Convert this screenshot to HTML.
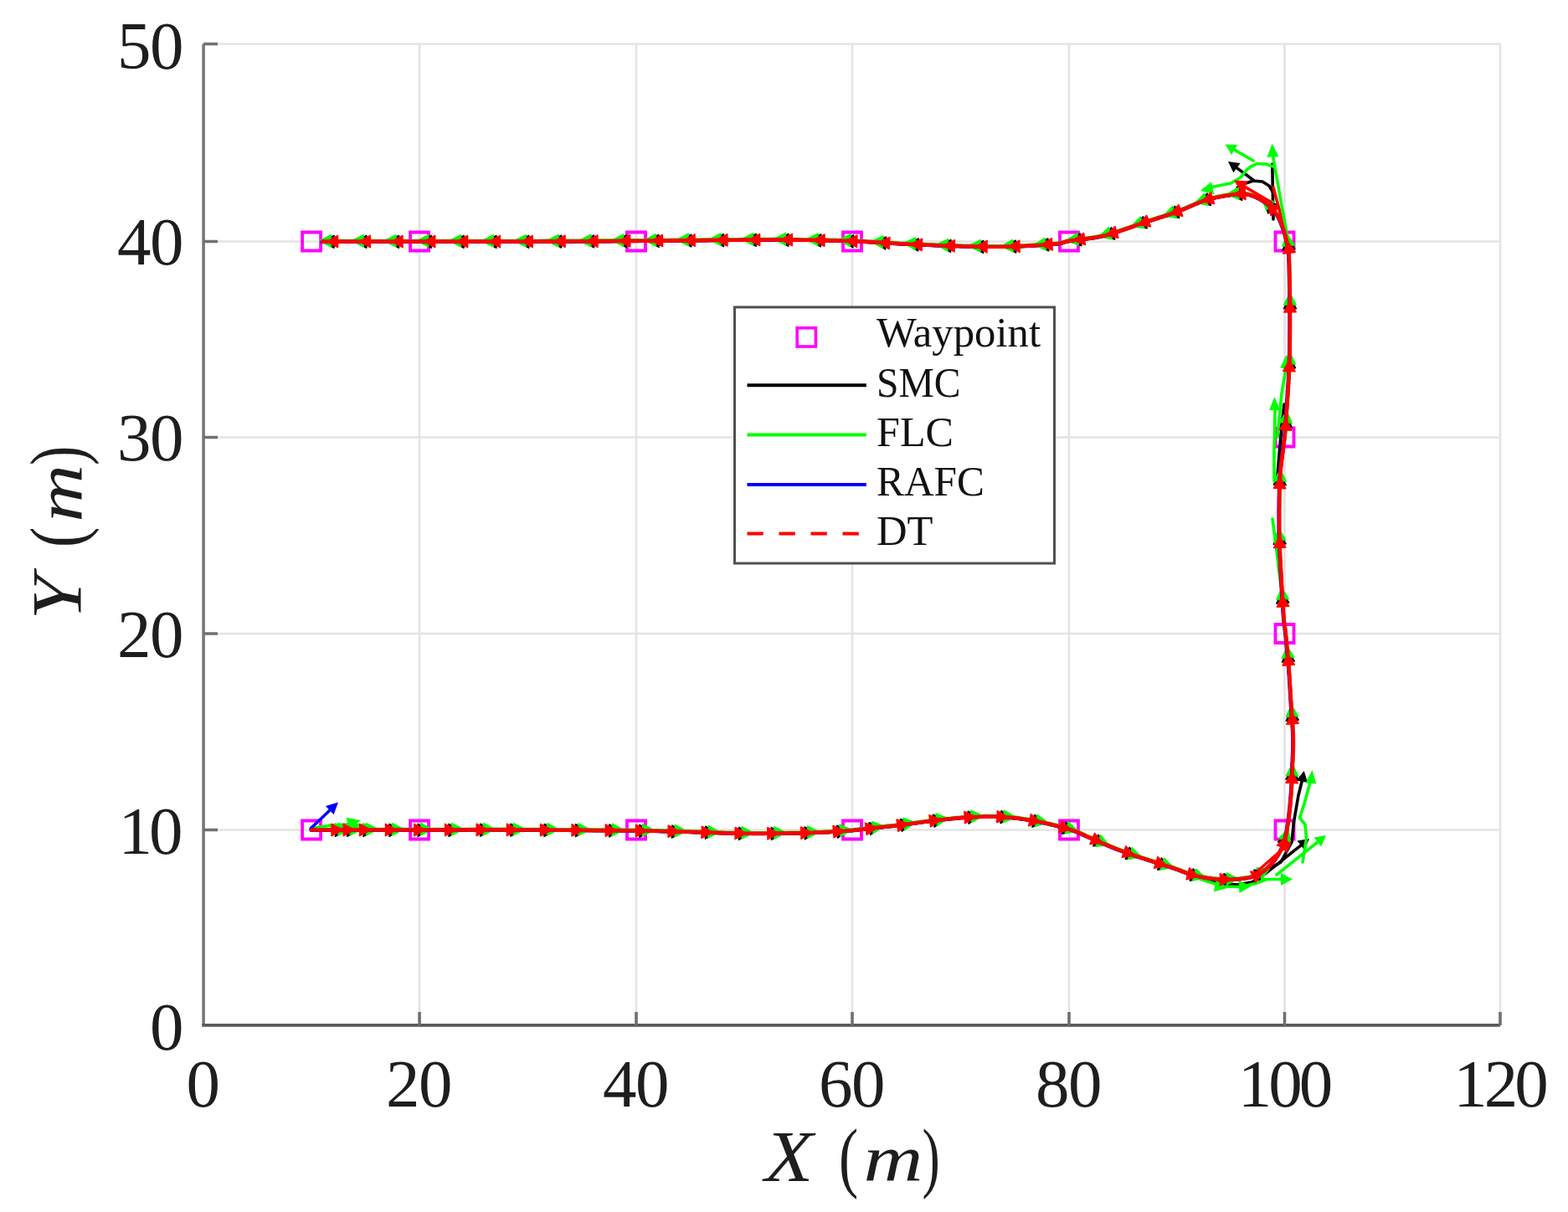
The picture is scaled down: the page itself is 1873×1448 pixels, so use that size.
<!DOCTYPE html><html><head><meta charset="utf-8"><title>Trajectory tracking</title>
<style>html,body{margin:0;padding:0;background:#fff;overflow:hidden;}svg{display:block;}</style></head><body>
<svg width="1873" height="1448" viewBox="0 0 1873 1448">
<rect width="1873" height="1448" fill="#ffffff"/>
<path d="M501.1 52.5V1225M760 52.5V1225M1018 52.5V1225M1277 52.5V1225M1534.5 52.5V1225M1792 52.5V1225M243 991.5H1792M243 757H1792M243 522.5H1792M243 288.5H1792M243 52.5H1792" stroke="#e3e3e3" stroke-width="2.6" fill="none"/>
<path d="M361.1 277.5h22v22h-22ZM490.1 277.5h22v22h-22ZM749 277.5h22v22h-22ZM1007 277.5h22v22h-22ZM1266 277.5h22v22h-22ZM1523.5 277.5h22v22h-22ZM1523.5 511.5h22v22h-22ZM1523.5 746h22v22h-22ZM1523.5 980.5h22v22h-22ZM1266 980.5h22v22h-22ZM1007 980.5h22v22h-22ZM749 980.5h22v22h-22ZM490.1 980.5h22v22h-22ZM361.1 980.5h22v22h-22Z" stroke="#ff00ff" stroke-width="3.8" fill="none"/>
<path d="M372.1 991.9L373.8 991.9L375.7 991.9L377.8 991.9L380.2 991.9L382.8 991.9L385.8 991.9L389 991.9L392.6 991.9L396.5 991.9L400.9 991.9L405.6 991.9L410.8 991.9L416.4 991.9L422.4 991.9L428.8 991.9L435.6 991.9L442.8 991.9L450.3 991.9L458.1 991.9L466.2 991.9L474.6 991.9L483.2 991.9L492.1 991.9L501.1 991.9L510.5 991.9L520.4 991.9L530.7 991.9L541.4 991.9L552.3 991.9L563.4 991.8L574.6 991.8L586 991.8L597.3 991.8L608.5 991.8L619.6 991.9L630.5 991.9L641.5 991.9L652.9 992L664.4 992.1L676.1 992.1L687.8 992.2L699.3 992.3L710.7 992.4L721.6 992.5L732.2 992.5L742.2 992.6L751.5 992.7L760 992.8L767.6 992.9L774.5 993L780.7 993.1L786.3 993.2L791.4 993.4L796.3 993.5L800.9 993.6L805.4 993.7L809.9 993.8L814.5 994L819.3 994.1L824.5 994.2L829.9 994.4L835.2 994.5L840.6 994.7L846 994.9L851.4 995.1L856.8 995.3L862.1 995.5L867.5 995.6L872.9 995.8L878.2 995.9L883.6 996L889 996.1L894.5 996.1L900 996.2L905.7 996.2L911.5 996.2L917.2 996.1L922.9 996.1L928.5 996L933.9 995.9L939.2 995.9L944.2 995.8L949 995.7L953.5 995.6L957.7 995.6L961.6 995.5L965.3 995.4L968.8 995.3L972.1 995.1L975.3 995L978.3 994.9L981.2 994.8L984 994.6L986.8 994.5L989.5 994.4L992.2 994.2L994.8 994.1L997.2 994L999.6 993.8L1001.8 993.7L1003.9 993.5L1005.9 993.4L1007.9 993.2L1009.9 993.1L1011.9 992.9L1013.8 992.7L1015.9 992.6L1018 992.4L1020.1 992.2L1022.2 992L1024.3 991.8L1026.3 991.5L1028.4 991.3L1030.5 991.1L1032.6 990.8L1034.7 990.6L1036.9 990.3L1039.1 990.1L1041.5 989.8L1043.9 989.6L1046.4 989.3L1049 989L1051.6 988.7L1054.3 988.4L1057 988.1L1059.8 987.8L1062.6 987.5L1065.5 987.2L1068.5 986.9L1071.5 986.5L1074.5 986.2L1077.6 985.8L1080.7 985.4L1084 985L1087.3 984.5L1090.6 984.1L1094.1 983.6L1097.5 983.1L1101 982.6L1104.5 982.1L1108 981.7L1111.5 981.2L1114.9 980.8L1118.4 980.4L1121.8 980L1125.2 979.6L1128.6 979.3L1132 978.9L1135.5 978.6L1138.9 978.2L1142.3 977.9L1145.7 977.6L1149.1 977.3L1152.5 977.1L1155.8 976.8L1159.2 976.7L1162.5 976.5L1165.7 976.4L1169 976.2L1172.2 976.1L1175.5 976L1178.7 976L1181.9 976L1185.1 976L1188.3 976L1191.6 976.1L1194.8 976.3L1198 976.4L1201.2 976.6L1204.5 976.9L1207.7 977.2L1210.9 977.5L1214.1 977.8L1217.3 978.2L1220.5 978.7L1223.7 979.1L1227 979.6L1230.2 980.2L1233.5 980.7L1236.9 981.3L1240.3 982L1243.8 982.7L1247.5 983.5L1251.1 984.3L1254.9 985.2L1258.5 986.1L1262.2 987L1265.7 987.9L1269.1 988.8L1272.4 989.7L1275.5 990.6L1278.3 991.4L1280.8 992.2L1283 993L1285 993.7L1286.7 994.4L1288.4 995.1L1290 995.8L1291.5 996.5L1293.2 997.3L1294.9 998.1L1296.8 999L1299 1000L1301.5 1001L1304.1 1002.1L1306.9 1003.3L1309.8 1004.6L1312.8 1005.9L1315.9 1007.3L1319.2 1008.7L1322.5 1010.1L1326 1011.6L1329.6 1013.1L1333.4 1014.6L1337.3 1016.1L1341.4 1017.6L1345.7 1019.1L1350.5 1020.8L1355.5 1022.5L1360.8 1024.3L1366.2 1026.1L1371.7 1027.8L1377.1 1029.6L1382.4 1031.3L1387.5 1032.9L1392.3 1034.5L1396.7 1035.9L1400.6 1037.2L1404 1038.4L1407 1039.4L1409.7 1040.4L1412.1 1041.3L1414.3 1042.2L1416.4 1042.9L1418.3 1043.7L1420.2 1044.3L1422.2 1045L1424.3 1045.6L1426.5 1046.2L1428.9 1046.8L1431.5 1047.3L1434.2 1047.9L1436.9 1048.4L1439.7 1048.9L1442.4 1049.4L1445.3 1049.8L1448.1 1050.2L1451 1050.5L1453.8 1050.8L1456.7 1051L1459.5 1051.1L1462.4 1051.2L1465.3 1051.2L1468.3 1051.2L1471.3 1051.1L1474.4 1050.9L1477.5 1050.7L1480.6 1050.5L1483.6 1050.1L1486.6 1049.7L1489.4 1049.3L1492.2 1048.8L1494.8 1048.2L1497.2 1047.5L1499.4 1046.7L1501.5 1045.9L1503.4 1045L1505.3 1044L1507 1043L1508.7 1041.9L1510.3 1040.8L1511.8 1039.5L1513.4 1038.2L1514.8 1036.9L1516.3 1035.4L1517.8 1033.9L1519.2 1032.3L1520.7 1030.6L1522.1 1028.8L1523.5 1027L1524.8 1025L1526.1 1023L1527.3 1021L1528.5 1018.9L1529.6 1016.8L1530.7 1014.7L1531.7 1012.6L1532.6 1010.6L1533.4 1008.6L1534.1 1006.6L1534.7 1004.6L1535.2 1002.6L1535.7 1000.6L1536.1 998.6L1536.5 996.5L1536.9 994.4L1537.3 992.2L1537.6 989.9L1538 987.6L1538.4 985.1L1538.8 982.5L1539.1 979.9L1539.5 977.2L1539.9 974.5L1540.2 971.6L1540.5 968.7L1540.9 965.8L1541.2 962.8L1541.4 959.7L1541.7 956.7L1542 953.5L1542.2 950.4L1542.5 947.1L1542.7 943.7L1542.9 940.2L1543.1 936.6L1543.2 933L1543.4 929.3L1543.5 925.7L1543.7 922.1L1543.8 918.6L1543.9 915.3L1544 912.1L1544.2 909.1L1544.3 906.4L1544.4 903.9L1544.5 901.6L1544.6 899.5L1544.7 897.5L1544.8 895.5L1544.8 893.5L1544.9 891.4L1544.9 889.3L1544.9 887L1544.9 884.4L1544.8 881.7L1544.7 878.7L1544.6 875.5L1544.4 872.1L1544.2 868.6L1544 865L1543.7 861.4L1543.5 857.6L1543.2 853.9L1542.9 850.2L1542.7 846.5L1542.4 843L1542.2 839.5L1542 836.1L1541.8 832.7L1541.6 829.4L1541.4 826.1L1541.2 822.8L1541 819.5L1540.8 816.3L1540.6 813L1540.4 809.7L1540.2 806.4L1539.9 803L1539.7 799.6L1539.4 796.1L1539.1 792.5L1538.7 788.8L1538.4 785L1538.1 781.2L1537.7 777.5L1537.4 773.8L1537 770.2L1536.7 766.7L1536.4 763.4L1536.1 760.3L1535.8 757.4L1535.5 754.9L1535.3 752.9L1535.1 751.2L1534.9 749.8L1534.7 748.4L1534.5 747.1L1534.3 745.8L1534.1 744.2L1533.9 742.3L1533.7 740.1L1533.5 737.3L1533.2 733.9L1532.9 729.9L1532.6 725.2L1532.3 720.1L1531.9 714.5L1531.6 708.6L1531.2 702.6L1530.8 696.5L1530.5 690.4L1530.2 684.4L1529.9 678.6L1529.6 673.2L1529.3 668.3L1529.1 663.7L1529 659.5L1528.8 655.4L1528.6 651.5L1528.5 647.8L1528.4 644.1L1528.3 640.5L1528.2 636.8L1528.1 633.2L1528.1 629.4L1528.1 625.5L1528.1 621.4L1528.1 617.1L1528.1 612.7L1528.1 608.2L1528.2 603.6L1528.2 598.9L1528.3 594.3L1528.4 589.6L1528.5 585L1528.7 580.4L1528.9 576L1529.1 571.6L1529.3 567.5L1529.7 563.3L1530 559.2L1530.4 555.2L1530.9 551.1L1531.4 547.2L1531.9 543.3L1532.4 539.5L1532.9 535.8L1533.3 532.3L1533.8 529L1534.2 525.8L1534.5 522.9L1534.8 520.3L1535 518.3L1535.2 516.6L1535.3 515.1L1535.4 513.8L1535.5 512.5L1535.7 511.2L1535.8 509.6L1535.9 507.8L1536 505.6L1536.2 502.9L1536.4 499.5L1536.7 495.5L1537 491L1537.3 486.1L1537.7 480.8L1538.1 475.2L1538.4 469.4L1538.8 463.4L1539.2 457.4L1539.5 451.3L1539.8 445.4L1540.1 439.6L1540.3 434L1540.5 428.5L1540.6 423.1L1540.7 417.6L1540.8 412.1L1540.9 406.7L1540.9 401.2L1541 395.8L1541 390.3L1541 384.8L1541 379.4L1541 373.9L1540.9 368.5L1540.9 362.8L1540.8 356.9L1540.8 350.8L1540.7 344.6L1540.6 338.4L1540.5 332.3L1540.3 326.4L1540.2 320.8L1540.1 315.5L1539.9 310.7L1539.8 306.5L1539.7 302.9L1539.5 300.1L1539.4 297.9L1539.3 296.3L1539.1 295.2L1539 294.5L1538.9 294L1538.7 293.7L1538.6 293.5L1538.4 293.2L1538.2 292.8L1538 292.2L1537.7 291.2L1537.4 290L1537.1 288.8L1536.8 287.5L1536.5 286.1L1536.2 284.7L1535.8 283.3L1535.4 281.9L1535 280.4L1534.6 279L1534.1 277.5L1533.7 276.1L1533.2 274.7L1532.7 273.4L1532.2 271.9L1531.7 270.5L1531.2 269.1L1530.6 267.7L1530.1 266.3L1529.5 264.9L1528.9 263.5L1528.2 262.1L1527.6 260.8L1526.9 259.5L1526.1 258.2L1525.4 257L1524.6 255.8L1523.8 254.7L1523 253.5L1522.2 252.4L1521.3 251.4L1520.4 250.3L1519.5 249.3L1518.5 248.2L1517.5 247.2L1516.4 246.2L1515.2 245.2L1513.9 244.2L1512.6 243.2L1511.2 242.2L1509.7 241.2L1508.2 240.2L1506.6 239.3L1505 238.3L1503.4 237.5L1501.8 236.6L1500.2 235.9L1498.7 235.2L1497.2 234.6L1495.7 234.1L1494.4 233.6L1493.1 233.2L1491.8 232.9L1490.6 232.6L1489.3 232.4L1488 232.2L1486.5 232.1L1485 232L1483.2 232L1481.3 232.1L1479.1 232.3L1476.7 232.5L1474.1 232.7L1471.3 233.1L1468.3 233.5L1465.2 234L1462 234.5L1458.7 235.1L1455.4 235.7L1452.1 236.4L1448.8 237.2L1445.6 238L1442.4 238.9L1439.4 239.8L1436.3 240.9L1433.3 242L1430.2 243.3L1427.1 244.5L1424.1 245.9L1421 247.2L1417.9 248.5L1414.9 249.9L1411.8 251.1L1408.8 252.4L1405.8 253.5L1402.8 254.6L1399.9 255.6L1397 256.5L1394.2 257.5L1391.4 258.4L1388.6 259.3L1385.7 260.2L1382.7 261.1L1379.7 262.1L1376.5 263.1L1373.2 264.2L1369.7 265.3L1366 266.5L1362.1 267.9L1357.9 269.3L1353.7 270.8L1349.4 272.4L1345 273.9L1340.5 275.4L1336.1 276.9L1331.8 278.3L1327.5 279.6L1323.4 280.8L1319.5 281.8L1315.6 282.7L1311.7 283.5L1307.8 284.2L1304 284.8L1300.2 285.3L1296.4 285.8L1292.8 286.3L1289.4 286.7L1286.1 287L1283 287.4L1280.2 287.8L1277.6 288.2L1275.5 288.6L1273.8 289L1272.6 289.3L1271.6 289.6L1270.7 289.9L1270 290.2L1269.2 290.4L1268.3 290.7L1267.2 290.9L1265.8 291.2L1263.9 291.4L1261.5 291.7L1258.5 292L1255.1 292.3L1251.3 292.6L1247.2 292.9L1242.8 293.2L1238.4 293.4L1233.8 293.7L1229.2 294L1224.7 294.2L1220.3 294.4L1216.1 294.6L1212.2 294.8L1208.6 294.9L1205.2 295L1201.8 295L1198.6 295.1L1195.4 295.1L1192.3 295.1L1189.1 295.1L1185.9 295.1L1182.7 295.1L1179.3 295.1L1175.8 295L1172.1 295L1168.3 294.9L1164.3 294.9L1160.2 294.8L1156.1 294.7L1151.9 294.6L1147.6 294.4L1143.3 294.3L1138.9 294.2L1134.6 294L1130.2 293.9L1125.9 293.7L1121.6 293.6L1117.3 293.4L1113 293.2L1108.7 293.1L1104.4 292.9L1100.1 292.7L1095.8 292.5L1091.4 292.3L1087.1 292.1L1082.8 291.9L1078.4 291.7L1074.1 291.5L1069.8 291.2L1065.5 291L1061.3 290.8L1057.2 290.5L1053 290.3L1048.9 290L1044.7 289.8L1040.5 289.5L1036.2 289.3L1031.9 289L1027.4 288.8L1022.8 288.6L1018 288.4L1013.1 288.3L1008 288.1L1002.8 287.9L997.5 287.8L992 287.7L986.6 287.5L981 287.4L975.5 287.3L969.9 287.2L964.4 287.1L958.9 287.1L953.5 287L948.3 287L943.5 286.9L938.9 286.9L934.4 286.9L929.9 286.9L925.3 286.8L920.4 286.9L915.3 286.9L909.7 286.9L903.5 286.9L896.6 287L889 287L880.5 287.1L871.2 287.1L861.3 287.2L850.8 287.3L839.8 287.4L828.5 287.6L817 287.7L805.4 287.8L793.8 287.9L782.2 288L771 288.1L760 288.2L749.2 288.3L738.4 288.3L727.6 288.4L716.8 288.5L706.1 288.6L695.3 288.6L684.5 288.7L673.7 288.7L662.9 288.8L652.1 288.8L641.3 288.9L630.5 288.9L619.7 288.9L608.8 288.9L597.9 288.9L586.9 289L576 288.9L565 288.9L554.1 288.9L543.3 288.9L532.6 288.9L521.9 288.9L511.4 288.9L501.1 288.9L490.6 288.9L479.7 288.9L468.4 288.9L457.1 288.9L445.9 288.9L435 288.9L424.5 288.9L414.6 288.9L405.5 288.9L397.4 288.9L390.5 288.9L385 288.9" stroke="#000000" stroke-width="4.0" fill="none" stroke-linejoin="round" stroke-linecap="round"/>
<path d="M414.5 991.8L400.5 999.3L400.5 984.3ZM428.7 991.8L414.7 999.3L414.7 984.3ZM448.1 991.8L434.1 999.3L434.1 984.3ZM479 991.8L465 999.3L465 984.3ZM513.2 991.8L499.2 999.3L499.2 984.3ZM550.1 991.8L536.1 999.3L536.1 984.3ZM587.7 991.7L573.7 999.2L573.7 984.2ZM623.9 991.8L609.9 999.2L609.9 984.2ZM664.1 991.9L650 999.4L650.1 984.4ZM701.6 992.2L687.5 999.6L687.6 984.6ZM741.7 992.5L727.7 999.9L727.8 984.9ZM777.9 993L763.9 1000.3L764 985.3ZM816.6 993.9L802.4 1001L802.9 986ZM856.6 995.2L842.4 1002.2L842.9 987.2ZM896.6 996.1L882.5 1003.4L882.7 988.4ZM935.3 995.8L921.4 1003.5L921.3 988.5ZM975.3 995L961.5 1002.9L961.1 987.9ZM1014 992.7L1000.5 1001.2L999.5 986.2ZM1052.7 988.5L1039.7 997.5L1038 982.6ZM1090.3 984.1L1077.3 993.3L1075.4 978.4ZM1129.1 979.1L1116.1 988.1L1114.4 973.2ZM1170.6 975.9L1157.1 984.2L1156.2 969.2ZM1209.5 976.9L1195.1 983.7L1195.9 968.7ZM1248.2 983.3L1233 988.2L1235.7 973.4ZM1284.2 993L1268.7 996.3L1272.8 981.9ZM1321.6 1009.7L1305.8 1010.9L1311.8 997.2ZM1360 1024L1344.3 1026.5L1349.2 1012.3ZM1398.3 1036.3L1382.7 1039.2L1387.3 1024.9ZM1436.7 1048.8L1421.3 1052.4L1425.1 1038ZM1475.9 1051.1L1461.9 1058.6L1461.9 1043.6ZM1513.5 1040.3L1503.9 1052.9L1497.7 1039.3ZM1537.7 994.7L1540.7 1010.3L1526.4 1005.9ZM1543.9 917.4L1550.8 931.7L1535.8 931.1ZM1542.7 846.8L1551.2 860.2L1536.2 861.2ZM1537.7 776.5L1546.4 789.8L1531.4 791.1ZM1531.4 706.6L1539.8 720.1L1524.8 721.1ZM1528.1 636.1L1536.1 649.8L1521.1 650.3ZM1529.3 565.3L1536.2 579.6L1521.2 579ZM1536.7 495.7L1543.2 510.2L1528.3 509.2ZM1540.6 425.4L1547.6 439.7L1532.6 439.1ZM1540.8 354.7L1548.4 368.7L1533.4 368.8ZM1537.9 284.2L1546.9 297.3L1532 298.9ZM1509.8 239.7L1525.1 244.1L1514.7 254.9ZM1469.1 232.8L1482.6 224.4L1483.6 239.4ZM1430.9 242.4L1442 231L1446.5 245.4ZM1393 258L1403.7 246.2L1408.7 260.3ZM1354.7 270.3L1365.5 258.7L1370.3 272.9ZM1316.2 282.8L1327.6 271.7L1331.8 286.1ZM1277.2 288L1290.2 278.9L1291.9 293.8ZM1238.3 293.4L1251.8 284.9L1252.8 299.9ZM1199.5 295.1L1213.2 287.1L1213.7 302.1ZM1160.6 294.7L1174.7 287.4L1174.5 302.4ZM1121.8 293.5L1136 286.5L1135.5 301.5ZM1082.9 291.8L1097.3 285L1096.6 299.9ZM1044.1 289.6L1058.5 283L1057.6 298ZM1005.2 287.9L1019.5 280.9L1018.9 295.9ZM966.5 287.1L980.6 279.8L980.4 294.8ZM927.8 286.7L941.9 279.3L941.8 294.3ZM889.1 286.9L903.1 279.3L903.2 294.3ZM850.4 287.2L864.3 279.6L864.5 294.6ZM811.7 287.6L825.6 280L825.8 295ZM773 288L786.9 280.4L787.1 295.4ZM734.3 288.3L748.2 280.7L748.3 295.7ZM695.4 288.5L709.4 280.9L709.5 295.9ZM656.6 288.7L670.6 281.1L670.6 296.1ZM617.8 288.8L631.7 281.3L631.8 296.3ZM578.9 288.9L592.9 281.4L592.9 296.4ZM540.1 288.8L554.1 281.3L554.1 296.3ZM501.3 288.8L515.3 281.3L515.2 296.3ZM462.5 288.8L476.5 281.3L476.5 296.3ZM423.8 288.8L437.8 281.3L437.8 296.3ZM385.1 288.8L399.1 281.3L399.1 296.3Z" fill="#000000" stroke="#000000" stroke-width="1.4" stroke-linejoin="round"/>
<path d="M1521 262L1520.5 240L1519.8 196" stroke="#000000" stroke-width="3.6" fill="none" stroke-linejoin="round" stroke-linecap="round"/>
<path d="M1522 232L1516 222L1508 217L1497 216L1488 219L1478 224" stroke="#000000" stroke-width="3.6" fill="none" stroke-linejoin="round" stroke-linecap="round"/>
<path d="M1497 215L1473.3 197.6" stroke="#000000" stroke-width="3.6" stroke-linecap="round"/><path d="M1467 193L1481.6 195L1473.3 206.3Z" fill="#000000"/>
<path d="M1511 1044L1557.9 1006.8" stroke="#000000" stroke-width="3.6" stroke-linecap="round"/><path d="M1564 1002L1558.2 1015.6L1549.5 1004.6Z" fill="#000000"/>
<path d="M1420 1044L1440 1051L1460 1055.5L1478 1057L1495 1054L1508 1047" stroke="#000000" stroke-width="3.6" fill="none" stroke-linejoin="round" stroke-linecap="round"/>
<path d="M1506 1045L1530 1030L1543 1006L1545.5 982L1551 950L1556 930" stroke="#000000" stroke-width="3.6" fill="none" stroke-linejoin="round" stroke-linecap="round"/>
<path d="M1525 580L1527 555L1530 520L1534 483" stroke="#000000" stroke-width="3.6" fill="none" stroke-linejoin="round" stroke-linecap="round"/>
<path d="M1557.7 921L1562.1 935.1L1548.3 932.4Z" fill="#000000"/>
<path d="M372.1 990.7L373.8 990.7L375.7 990.7L377.8 990.7L380.2 990.7L382.8 990.7L385.8 990.7L389 990.7L392.6 990.7L396.5 990.7L400.9 990.7L405.6 990.7L410.8 990.7L416.4 990.7L422.4 990.7L428.8 990.7L435.6 990.7L442.8 990.7L450.3 990.7L458.1 990.7L466.2 990.7L474.6 990.7L483.2 990.7L492.1 990.7L501.1 990.7L510.5 990.7L520.4 990.7L530.7 990.7L541.4 990.7L552.3 990.7L563.4 990.6L574.6 990.6L586 990.6L597.3 990.6L608.5 990.6L619.6 990.7L630.5 990.7L641.5 990.7L652.9 990.8L664.4 990.9L676.1 990.9L687.8 991L699.3 991.1L710.7 991.2L721.6 991.3L732.2 991.3L742.2 991.4L751.5 991.5L760 991.6L767.6 991.7L774.5 991.8L780.7 991.9L786.3 992L791.4 992.2L796.3 992.3L800.9 992.4L805.4 992.5L809.9 992.6L814.5 992.8L819.3 992.9L824.5 993L829.9 993.2L835.2 993.3L840.6 993.5L846 993.7L851.4 993.9L856.8 994.1L862.1 994.3L867.5 994.4L872.9 994.6L878.2 994.7L883.6 994.8L889 994.9L894.5 994.9L900 995L905.7 995L911.5 995L917.2 994.9L922.9 994.9L928.5 994.8L933.9 994.7L939.2 994.7L944.2 994.6L949 994.5L953.5 994.4L957.7 994.4L961.6 994.3L965.3 994.2L968.8 994.1L972.1 993.9L975.3 993.8L978.3 993.7L981.2 993.6L984 993.4L986.8 993.3L989.5 993.2L992.2 993L994.8 992.9L997.2 992.8L999.6 992.6L1001.8 992.5L1003.9 992.3L1005.9 992.2L1007.9 992L1009.9 991.9L1011.9 991.7L1013.8 991.5L1015.9 991.4L1018 991.2L1020.1 991L1022.2 990.8L1024.3 990.6L1026.3 990.3L1028.4 990.1L1030.5 989.9L1032.6 989.6L1034.7 989.4L1036.9 989.1L1039.1 988.9L1041.5 988.6L1043.9 988.4L1046.4 988.1L1049 987.8L1051.6 987.5L1054.3 987.2L1057 986.9L1059.8 986.6L1062.6 986.3L1065.5 986L1068.5 985.7L1071.5 985.3L1074.5 985L1077.6 984.6L1080.7 984.2L1084 983.8L1087.3 983.3L1090.6 982.9L1094.1 982.4L1097.5 981.9L1101 981.4L1104.5 980.9L1108 980.5L1111.5 980L1114.9 979.6L1118.4 979.2L1121.8 978.8L1125.2 978.4L1128.6 978.1L1132 977.7L1135.5 977.4L1138.9 977L1142.3 976.7L1145.7 976.4L1149.1 976.1L1152.5 975.9L1155.8 975.6L1159.2 975.5L1162.5 975.3L1165.7 975.2L1169 975L1172.2 974.9L1175.5 974.8L1178.7 974.8L1181.9 974.8L1185.1 974.8L1188.3 974.8L1191.6 974.9L1194.8 975.1L1198 975.2L1201.2 975.4L1204.5 975.7L1207.7 976L1210.9 976.3L1214.1 976.6L1217.3 977L1220.5 977.5L1223.7 977.9L1227 978.4L1230.2 979L1233.5 979.5L1236.9 980.1L1240.3 980.8L1243.8 981.5L1247.5 982.3L1251.1 983.1L1254.9 984L1258.5 984.9L1262.2 985.8L1265.7 986.7L1269.1 987.6L1272.4 988.5L1275.5 989.4L1278.3 990.2L1280.8 991L1283 991.8L1285 992.5L1286.7 993.2L1288.4 993.9L1290 994.6L1291.5 995.3L1293.2 996.1L1294.9 996.9L1296.8 997.8L1299 998.8L1301.5 999.8L1304.1 1000.9L1306.9 1002.1L1309.8 1003.4L1312.8 1004.7L1315.9 1006.1L1319.2 1007.5L1322.5 1008.9L1326 1010.4L1329.6 1011.9L1333.4 1013.4L1337.3 1014.9L1341.4 1016.4L1345.7 1017.9L1350.5 1019.6L1355.5 1021.3L1360.8 1023.1L1366.2 1024.9L1371.7 1026.6L1377.1 1028.4L1382.4 1030.1L1387.5 1031.7L1392.3 1033.3L1396.7 1034.7L1400.6 1036L1404 1037.2L1407 1038.2L1409.7 1039.2L1412.1 1040.1L1414.3 1041L1416.4 1041.7L1418.3 1042.5L1420.2 1043.1L1422.2 1043.8L1424.3 1044.4L1426.5 1045L1428.9 1045.6L1431.5 1046.1L1434.2 1046.7L1436.9 1047.2L1439.7 1047.7L1442.4 1048.2L1445.3 1048.6L1448.1 1049L1451 1049.3L1453.8 1049.6L1456.7 1049.8L1459.5 1049.9L1462.4 1050L1465.3 1050L1468.3 1050L1471.3 1049.9L1474.4 1049.7L1477.5 1049.5L1480.6 1049.3L1483.6 1048.9L1486.6 1048.5L1489.4 1048.1L1492.2 1047.6L1494.8 1047L1497.2 1046.3L1499.4 1045.5L1501.5 1044.7L1503.4 1043.8L1505.3 1042.8L1507 1041.8L1508.7 1040.7L1510.3 1039.6L1511.8 1038.3L1513.4 1037L1514.8 1035.7L1516.3 1034.2L1517.8 1032.7L1519.2 1031.1L1520.7 1029.4L1522.1 1027.6L1523.5 1025.8L1524.8 1023.8L1526.1 1021.8L1527.3 1019.8L1528.5 1017.7L1529.6 1015.6L1530.7 1013.5L1531.7 1011.4L1532.6 1009.4L1533.4 1007.4L1534.1 1005.4L1534.7 1003.4L1535.2 1001.4L1535.7 999.4L1536.1 997.4L1536.5 995.3L1536.9 993.2L1537.3 991L1537.6 988.7L1538 986.4L1538.4 983.9L1538.8 981.3L1539.1 978.7L1539.5 976L1539.9 973.3L1540.2 970.4L1540.5 967.5L1540.9 964.6L1541.2 961.6L1541.4 958.5L1541.7 955.5L1542 952.3L1542.2 949.2L1542.5 945.9L1542.7 942.5L1542.9 939L1543.1 935.4L1543.2 931.8L1543.4 928.1L1543.5 924.5L1543.7 920.9L1543.8 917.4L1543.9 914.1L1544 910.9L1544.2 907.9L1544.3 905.2L1544.4 902.7L1544.5 900.4L1544.6 898.3L1544.7 896.3L1544.8 894.3L1544.8 892.3L1544.9 890.2L1544.9 888.1L1544.9 885.8L1544.9 883.2L1544.8 880.5L1544.7 877.5L1544.6 874.3L1544.4 870.9L1544.2 867.4L1544 863.8L1543.7 860.2L1543.5 856.4L1543.2 852.7L1542.9 849L1542.7 845.3L1542.4 841.8L1542.2 838.3L1542 834.9L1541.8 831.5L1541.6 828.2L1541.4 824.9L1541.2 821.6L1541 818.3L1540.8 815.1L1540.6 811.8L1540.4 808.5L1540.2 805.2L1539.9 801.8L1539.7 798.4L1539.4 794.9L1539.1 791.3L1538.7 787.6L1538.4 783.8L1538.1 780L1537.7 776.3L1537.4 772.6L1537 769L1536.7 765.5L1536.4 762.2L1536.1 759.1L1535.8 756.2L1535.5 753.7L1535.3 751.7L1535.1 750L1534.9 748.6L1534.7 747.2L1534.5 745.9L1534.3 744.6L1534.1 743L1533.9 741.1L1533.7 738.9L1533.5 736.1L1533.2 732.8L1532.9 728.7L1532.6 724L1532.3 718.9L1531.9 713.3L1531.6 707.4L1531.2 701.4L1530.8 695.3L1530.5 689.2L1530.2 683.2L1529.9 677.4L1529.6 672L1529.3 667.1L1529.1 662.5L1529 658.3L1528.8 654.2L1528.6 650.3L1528.5 646.6L1528.4 642.9L1528.3 639.3L1528.2 635.6L1528.1 632L1528.1 628.2L1528.1 624.3L1528.1 620.2L1528.1 615.9L1528.1 611.5L1528.1 607L1528.2 602.4L1528.2 597.7L1528.3 593.1L1528.4 588.4L1528.5 583.8L1528.7 579.2L1528.9 574.8L1529.1 570.4L1529.3 566.3L1529.7 562.1L1530 558L1530.4 554L1530.9 549.9L1531.4 546L1531.9 542.1L1532.4 538.3L1532.9 534.6L1533.3 531.1L1533.8 527.8L1534.2 524.6L1534.5 521.7L1534.8 519.1L1535 517.1L1535.2 515.4L1535.3 513.9L1535.4 512.6L1535.5 511.3L1535.7 510L1535.8 508.4L1535.9 506.6L1536 504.4L1536.2 501.7L1536.4 498.3L1536.7 494.3L1537 489.8L1537.3 484.9L1537.7 479.6L1538.1 474L1538.4 468.2L1538.8 462.2L1539.2 456.2L1539.5 450.1L1539.8 444.2L1540.1 438.4L1540.3 432.8L1540.5 427.3L1540.6 421.9L1540.7 416.4L1540.8 410.9L1540.9 405.5L1540.9 400L1541 394.6L1541 389.1L1541 383.6L1541 378.2L1541 372.7L1540.9 367.3L1540.9 361.6L1540.8 355.7L1540.8 349.6L1540.7 343.4L1540.6 337.2L1540.5 331.1L1540.3 325.2L1540.2 319.6L1540.1 314.3L1539.9 309.5L1539.8 305.3L1539.7 301.7L1539.5 298.9L1539.4 296.7L1539.3 295.1L1539.1 294L1539 293.3L1538.9 292.8L1538.7 292.5L1538.6 292.3L1538.4 292L1538.2 291.6L1538 291L1537.7 290L1537.4 288.8L1537.1 287.6L1536.8 286.3L1536.5 284.9L1536.2 283.5L1535.8 282.1L1535.4 280.7L1535 279.2L1534.6 277.8L1534.1 276.3L1533.7 274.9L1533.2 273.5L1532.7 272.2L1532.2 270.7L1531.7 269.3L1531.2 267.9L1530.6 266.5L1530.1 265.1L1529.5 263.7L1528.9 262.3L1528.2 260.9L1527.6 259.6L1526.9 258.3L1526.1 257L1525.4 255.8L1524.6 254.6L1523.8 253.5L1523 252.3L1522.2 251.2L1521.3 250.2L1520.4 249.1L1519.5 248.1L1518.5 247L1517.5 246L1516.4 245L1515.2 244L1513.9 243L1512.6 242L1511.2 241L1509.7 240L1508.2 239L1506.6 238.1L1505 237.1L1503.4 236.3L1501.8 235.4L1500.2 234.7L1498.7 234L1497.2 233.4L1495.7 232.9L1494.4 232.4L1493.1 232L1491.8 231.7L1490.6 231.4L1489.3 231.2L1488 231L1486.5 230.9L1485 230.8L1483.2 230.8L1481.3 230.9L1479.1 231.1L1476.7 231.3L1474.1 231.5L1471.3 231.9L1468.3 232.3L1465.2 232.8L1462 233.3L1458.7 233.9L1455.4 234.5L1452.1 235.2L1448.8 236L1445.6 236.8L1442.4 237.7L1439.4 238.6L1436.3 239.7L1433.3 240.8L1430.2 242.1L1427.1 243.3L1424.1 244.7L1421 246L1417.9 247.3L1414.9 248.7L1411.8 249.9L1408.8 251.2L1405.8 252.3L1402.8 253.4L1399.9 254.4L1397 255.3L1394.2 256.3L1391.4 257.2L1388.6 258.1L1385.7 259L1382.7 259.9L1379.7 260.9L1376.5 261.9L1373.2 263L1369.7 264.1L1366 265.3L1362.1 266.7L1357.9 268.1L1353.7 269.6L1349.4 271.2L1345 272.7L1340.5 274.2L1336.1 275.7L1331.8 277.1L1327.5 278.4L1323.4 279.6L1319.5 280.6L1315.6 281.5L1311.7 282.3L1307.8 283L1304 283.6L1300.2 284.1L1296.4 284.6L1292.8 285.1L1289.4 285.5L1286.1 285.8L1283 286.2L1280.2 286.6L1277.6 287L1275.5 287.4L1273.8 287.8L1272.6 288.1L1271.6 288.4L1270.7 288.7L1270 289L1269.2 289.2L1268.3 289.5L1267.2 289.7L1265.8 290L1263.9 290.2L1261.5 290.5L1258.5 290.8L1255.1 291.1L1251.3 291.4L1247.2 291.7L1242.8 292L1238.4 292.2L1233.8 292.5L1229.2 292.8L1224.7 293L1220.3 293.2L1216.1 293.4L1212.2 293.6L1208.6 293.7L1205.2 293.8L1201.8 293.8L1198.6 293.9L1195.4 293.9L1192.3 293.9L1189.1 293.9L1185.9 293.9L1182.7 293.9L1179.3 293.9L1175.8 293.8L1172.1 293.8L1168.3 293.7L1164.3 293.7L1160.2 293.6L1156.1 293.5L1151.9 293.4L1147.6 293.2L1143.3 293.1L1138.9 293L1134.6 292.8L1130.2 292.7L1125.9 292.5L1121.6 292.4L1117.3 292.2L1113 292L1108.7 291.9L1104.4 291.7L1100.1 291.5L1095.8 291.3L1091.4 291.1L1087.1 290.9L1082.8 290.7L1078.4 290.5L1074.1 290.3L1069.8 290L1065.5 289.8L1061.3 289.6L1057.2 289.3L1053 289.1L1048.9 288.8L1044.7 288.6L1040.5 288.3L1036.2 288.1L1031.9 287.8L1027.4 287.6L1022.8 287.4L1018 287.2L1013.1 287.1L1008 286.9L1002.8 286.7L997.5 286.6L992 286.5L986.6 286.3L981 286.2L975.5 286.1L969.9 286L964.4 285.9L958.9 285.9L953.5 285.8L948.3 285.8L943.5 285.7L938.9 285.7L934.4 285.7L929.9 285.7L925.3 285.6L920.4 285.7L915.3 285.7L909.7 285.7L903.5 285.7L896.6 285.8L889 285.8L880.5 285.9L871.2 285.9L861.3 286L850.8 286.1L839.8 286.2L828.5 286.4L817 286.5L805.4 286.6L793.8 286.7L782.2 286.8L771 286.9L760 287L749.2 287.1L738.4 287.1L727.6 287.2L716.8 287.3L706.1 287.4L695.3 287.4L684.5 287.5L673.7 287.5L662.9 287.6L652.1 287.6L641.3 287.7L630.5 287.7L619.7 287.7L608.8 287.7L597.9 287.7L586.9 287.8L576 287.7L565 287.7L554.1 287.7L543.3 287.7L532.6 287.7L521.9 287.7L511.4 287.7L501.1 287.7L490.6 287.7L479.7 287.7L468.4 287.7L457.1 287.7L445.9 287.7L435 287.7L424.5 287.7L414.6 287.7L405.5 287.7L397.4 287.7L390.5 287.7L385 287.7" stroke="#00ff00" stroke-width="4.0" fill="none" stroke-linejoin="round" stroke-linecap="round"/>
<path d="M418 990.7L404 997.9L404 983.5ZM432.2 990.7L418.2 997.9L418.2 983.5ZM451.6 990.7L437.6 997.9L437.6 983.5ZM482.5 990.7L468.5 997.9L468.5 983.5ZM516.7 990.7L502.7 997.9L502.7 983.5ZM553.6 990.7L539.6 997.9L539.6 983.5ZM591.2 990.6L577.2 997.8L577.2 983.4ZM627.4 990.7L613.4 997.9L613.4 983.5ZM667.6 990.9L653.5 998L653.6 983.6ZM705.1 991.1L691 998.2L691.1 983.8ZM745.2 991.5L731.2 998.5L731.3 984.1ZM781.4 991.9L767.4 998.9L767.5 984.5ZM820.1 992.9L806 999.7L806.3 985.3ZM860.1 994.2L845.9 1000.9L846.4 986.5ZM900.1 995.1L886 1002.1L886.2 987.7ZM938.8 994.7L924.9 1002.1L924.8 987.7ZM978.8 993.8L965 1001.4L964.6 987ZM1017.5 991.4L1004 999.5L1003 985.2ZM1056.2 987L1043.1 995.7L1041.5 981.4ZM1093.7 982.6L1080.8 991.5L1079 977.2ZM1132.6 977.6L1119.5 986.3L1117.9 972ZM1174.1 974.6L1160.6 982.6L1159.8 968.2ZM1213 976L1198.6 982.5L1199.4 968.1ZM1251.6 982.8L1236.5 987.4L1239.1 973.2ZM1287.5 992.8L1272.1 995.9L1276.1 982.1ZM1324.8 1010L1309.1 1011L1314.9 997.8ZM1363.3 1024L1347.7 1026.2L1352.4 1012.6ZM1401.7 1036.3L1386.1 1038.8L1390.5 1025.1ZM1440.1 1048.6L1424.7 1052L1428.4 1038.1ZM1479.4 1050L1465.4 1057.2L1465.4 1042.8ZM1516.7 1037.8L1506.9 1050.1L1501 1037ZM1538.8 990.3L1541.5 1005.8L1527.7 1001.5ZM1544 912.8L1550.6 927.1L1536.3 926.5ZM1542.5 842.2L1550.6 855.7L1536.3 856.6ZM1537.4 771.9L1545.8 785.2L1531.4 786.5ZM1531.2 702.1L1539.3 715.6L1524.9 716.5ZM1528 631.5L1535.7 645.3L1521.3 645.7ZM1529.5 560.7L1536.1 575L1521.7 574.4ZM1536.9 491.1L1543.2 505.6L1528.8 504.6ZM1540.8 420.8L1547.4 435.1L1533 434.5ZM1540.8 350.1L1548.1 364.1L1533.7 364.2ZM1537.6 279.6L1546.3 292.7L1531.9 294.3ZM1507.3 236.2L1522.4 240.8L1512.4 251.1ZM1465.6 232L1479.1 223.8L1480 238.2ZM1427.5 242.3L1438.8 231.3L1443 245ZM1389.7 258L1400.5 246.5L1405.3 260.1ZM1351.4 270.4L1362.2 259L1366.9 272.6ZM1312.9 282.6L1324.3 271.8L1328.3 285.7ZM1273.7 287.3L1286.8 278.5L1288.4 292.8ZM1234.8 292.5L1248.3 284.4L1249.3 298.7ZM1196 294.1L1209.7 286.4L1210.2 300.8ZM1157.1 293.6L1171.2 286.6L1171 301ZM1118.3 292.3L1132.5 285.6L1132 300ZM1079.4 290.5L1093.7 284L1093.1 298.4ZM1040.6 288.3L1055 282L1054.1 296.4ZM1001.7 286.7L1016 280L1015.5 294.3ZM963 285.9L977.1 279L976.9 293.4ZM924.3 285.6L938.4 278.5L938.3 292.9ZM885.6 285.8L899.6 278.5L899.7 292.9ZM846.9 286.2L860.8 278.8L861 293.2ZM808.2 286.6L822.1 279.2L822.3 293.6ZM769.5 286.9L783.4 279.6L783.6 294ZM730.8 287.2L744.7 279.9L744.8 294.3ZM691.9 287.4L705.9 280.2L706 294.6ZM653.1 287.6L667.1 280.4L667.1 294.8ZM614.3 287.7L628.2 280.5L628.3 294.9ZM575.4 287.8L589.4 280.6L589.4 295ZM536.6 287.7L550.6 280.5L550.6 294.9ZM497.8 287.7L511.8 280.5L511.7 294.9ZM459 287.7L473 280.5L473 294.9ZM420.3 287.7L434.3 280.5L434.3 294.9ZM381.6 287.7L395.6 280.5L395.6 294.9Z" fill="#00ff00" stroke="#00ff00" stroke-width="1.4" stroke-linejoin="round"/>
<path d="M376 989L395 986L415 985L440 986.5" stroke="#00ff00" stroke-width="3.6" fill="none" stroke-linejoin="round" stroke-linecap="round"/>
<path d="M431 980L417.4 991.3L413.6 976.8Z" fill="#00ff00"/>
<path d="M1541 300L1530 240L1520.5 186" stroke="#00ff00" stroke-width="3.6" fill="none" stroke-linejoin="round" stroke-linecap="round"/>
<path d="M1519.6 171.5L1527.4 187.1L1513.4 187.8Z" fill="#00ff00"/>
<path d="M1521 199L1512 196L1502 195.5L1495 198.5L1489 203L1482 212L1470 219L1450 223L1438 226" stroke="#00ff00" stroke-width="3.6" fill="none" stroke-linejoin="round" stroke-linecap="round"/>
<path d="M1434 228L1446.9 217.3L1450.3 231.9Z" fill="#00ff00"/>
<path d="M1497 192L1470.2 176.4" stroke="#00ff00" stroke-width="3.6" stroke-linecap="round"/><path d="M1463.5 172.5L1478.3 173L1471.2 185.1Z" fill="#00ff00"/>
<path d="M1522 575L1522 540L1523 490" stroke="#00ff00" stroke-width="3.6" fill="none" stroke-linejoin="round" stroke-linecap="round"/>
<path d="M1522.5 474L1529.1 489.9L1516.1 490Z" fill="#00ff00"/>
<path d="M1526 522L1531 470L1536 440" stroke="#00ff00" stroke-width="3.6" fill="none" stroke-linejoin="round" stroke-linecap="round"/>
<path d="M1536.5 424L1542.1 440.3L1529.1 439.6Z" fill="#00ff00"/>
<path d="M1520 620L1524 650L1530 700" stroke="#00ff00" stroke-width="3.6" fill="none" stroke-linejoin="round" stroke-linecap="round"/>
<path d="M1525 1045L1577.9 1002.9" stroke="#00ff00" stroke-width="3.6" stroke-linecap="round"/><path d="M1584 998L1578.2 1011.6L1569.5 1000.6Z" fill="#00ff00"/>
<path d="M1508 1050.5L1535.6 1050.5" stroke="#00ff00" stroke-width="3.6" stroke-linecap="round"/><path d="M1544 1050.5L1530 1058L1530 1043Z" fill="#00ff00"/>
<path d="M1556 1030L1560.5 1002L1559 985L1552.5 977L1558 960L1565 935" stroke="#00ff00" stroke-width="3.6" fill="none" stroke-linejoin="round" stroke-linecap="round"/>
<path d="M1567.5 920L1572.4 936.6L1559.4 935.3Z" fill="#00ff00"/>
<path d="M1425 1047L1445 1054L1462 1059L1480 1059.5L1498 1056L1512 1051" stroke="#00ff00" stroke-width="3.6" fill="none" stroke-linejoin="round" stroke-linecap="round"/>
<path d="M1466 1061L1449.9 1065.6L1452.6 1050.9Z" fill="#00ff00"/>
<path d="M1495 1058.5L1480.5 1066.9L1479.6 1051.9Z" fill="#00ff00"/>
<path d="M371.4 991.7L373.1 991.7L375 991.7L377.1 991.7L379.5 991.7L382.1 991.7L385.1 991.7L388.3 991.7L391.9 991.7L395.8 991.7L400.2 991.7L404.9 991.7L410.1 991.7L415.7 991.7L421.7 991.7L428.1 991.7L434.9 991.7L442.1 991.7L449.6 991.7L457.4 991.7L465.5 991.7L473.9 991.7L482.5 991.7L491.4 991.7L500.4 991.7L509.8 991.7L519.7 991.7L530 991.7L540.7 991.7L551.6 991.7L562.7 991.6L573.9 991.6L585.3 991.6L596.6 991.6L607.8 991.6L618.9 991.7L629.8 991.7L640.8 991.7L652.2 991.8L663.7 991.9L675.4 991.9L687.1 992L698.6 992.1L710 992.2L720.9 992.3L731.5 992.3L741.5 992.4L750.8 992.5L759.3 992.6L766.9 992.7L773.8 992.8L780 992.9L785.6 993L790.7 993.2L795.6 993.3L800.2 993.4L804.7 993.5L809.2 993.6L813.8 993.8L818.6 993.9L823.8 994L829.2 994.2L834.5 994.3L839.9 994.5L845.3 994.7L850.7 994.9L856 995.1L861.4 995.3L866.8 995.4L872.2 995.6L877.5 995.7L882.9 995.8L888.3 995.9L893.8 995.9L899.3 996L905 996L910.8 996L916.5 995.9L922.2 995.9L927.8 995.8L933.2 995.7L938.5 995.7L943.5 995.6L948.3 995.5L952.8 995.4L957 995.4L960.9 995.3L964.6 995.2L968.1 995.1L971.4 994.9L974.6 994.8L977.6 994.7L980.5 994.6L983.3 994.4L986.1 994.3L988.8 994.2L991.5 994L994.1 993.9L996.5 993.8L998.9 993.6L1001.1 993.5L1003.2 993.3L1005.2 993.2L1007.2 993L1009.2 992.9L1011.2 992.7L1013.1 992.5L1015.2 992.4L1017.3 992.2L1019.4 992L1021.5 991.8L1023.6 991.6L1025.6 991.3L1027.7 991.1L1029.8 990.9L1031.9 990.6L1034 990.4L1036.2 990.1L1038.4 989.9L1040.8 989.6L1043.2 989.4L1045.7 989.1L1048.3 988.8L1050.9 988.5L1053.6 988.2L1056.3 987.9L1059.1 987.6L1061.9 987.3L1064.8 987L1067.8 986.7L1070.8 986.3L1073.8 986L1076.9 985.6L1080 985.2L1083.3 984.8L1086.6 984.3L1089.9 983.9L1093.4 983.4L1096.8 982.9L1100.3 982.4L1103.8 981.9L1107.3 981.5L1110.8 981L1114.2 980.6L1117.7 980.2L1121.1 979.8L1124.5 979.4L1127.9 979.1L1131.3 978.7L1134.8 978.4L1138.2 978L1141.6 977.7L1145 977.4L1148.4 977.1L1151.8 976.9L1155.1 976.6L1158.5 976.5L1161.8 976.3L1165 976.2L1168.3 976L1171.5 975.9L1174.8 975.8L1178 975.8L1181.2 975.8L1184.4 975.8L1187.6 975.8L1190.9 975.9L1194.1 976.1L1197.3 976.2L1200.5 976.4L1203.8 976.7L1207 977L1210.2 977.3L1213.4 977.6L1216.6 978L1219.8 978.5L1223 978.9L1226.3 979.4L1229.5 980L1232.8 980.5L1236.2 981.1L1239.6 981.8L1243.1 982.5L1246.8 983.3L1250.4 984.1L1254.2 985L1257.8 985.9L1261.5 986.8L1265 987.7L1268.4 988.6L1271.7 989.5L1274.8 990.4L1277.6 991.2L1280.1 992L1282.3 992.8L1284.3 993.5L1286 994.2L1287.7 994.9L1289.3 995.6L1290.8 996.3L1292.5 997.1L1294.2 997.9L1296.1 998.8L1298.3 999.8L1300.8 1000.8L1303.4 1001.9L1306.2 1003.1L1309.1 1004.4L1312.1 1005.7L1315.2 1007.1L1318.5 1008.5L1321.8 1009.9L1325.3 1011.4L1328.9 1012.9L1332.7 1014.4L1336.6 1015.9L1340.7 1017.4L1345 1018.9L1349.8 1020.6L1354.8 1022.3L1360.1 1024.1L1365.5 1025.9L1371 1027.6L1376.4 1029.4L1381.7 1031.1L1386.8 1032.7L1391.6 1034.3L1396 1035.7L1399.9 1037L1403.3 1038.2L1406.3 1039.2L1409 1040.2L1411.4 1041.1L1413.6 1042L1415.7 1042.7L1417.6 1043.5L1419.5 1044.1L1421.5 1044.8L1423.6 1045.4L1425.8 1046L1428.2 1046.6L1430.8 1047.1L1433.5 1047.7L1436.2 1048.2L1439 1048.7L1441.7 1049.2L1444.6 1049.6L1447.4 1050L1450.3 1050.3L1453.1 1050.6L1456 1050.8L1458.8 1050.9L1461.7 1051L1464.6 1051L1467.6 1051L1470.6 1050.9L1473.7 1050.7L1476.8 1050.5L1479.9 1050.3L1482.9 1049.9L1485.9 1049.5L1488.7 1049.1L1491.5 1048.6L1494.1 1048L1496.5 1047.3L1498.7 1046.5L1500.8 1045.7L1502.7 1044.8L1504.6 1043.8L1506.3 1042.8L1508 1041.7L1509.6 1040.6L1511.1 1039.3L1512.7 1038L1514.1 1036.7L1515.6 1035.2L1517.1 1033.7L1518.5 1032.1L1520 1030.4L1521.4 1028.6L1522.8 1026.8L1524.1 1024.8L1525.4 1022.8L1526.6 1020.8L1527.8 1018.7L1528.9 1016.6L1530 1014.5L1531 1012.4L1531.9 1010.4L1532.7 1008.4L1533.4 1006.4L1534 1004.4L1534.5 1002.4L1535 1000.4L1535.4 998.4L1535.8 996.3L1536.2 994.2L1536.6 992L1536.9 989.7L1537.3 987.4L1537.7 984.9L1538.1 982.3L1538.4 979.7L1538.8 977L1539.2 974.3L1539.5 971.4L1539.8 968.5L1540.2 965.6L1540.5 962.6L1540.7 959.5L1541 956.5L1541.3 953.3L1541.5 950.2L1541.8 946.9L1542 943.5L1542.2 940L1542.4 936.4L1542.5 932.8L1542.7 929.1L1542.8 925.5L1543 921.9L1543.1 918.4L1543.2 915.1L1543.3 911.9L1543.5 908.9L1543.6 906.2L1543.7 903.7L1543.8 901.4L1543.9 899.3L1544 897.3L1544.1 895.3L1544.1 893.3L1544.2 891.2L1544.2 889.1L1544.2 886.8L1544.2 884.2L1544.1 881.5L1544 878.5L1543.9 875.3L1543.7 871.9L1543.5 868.4L1543.3 864.8L1543 861.2L1542.8 857.4L1542.5 853.7L1542.2 850L1542 846.3L1541.7 842.8L1541.5 839.3L1541.3 835.9L1541.1 832.5L1540.9 829.2L1540.7 825.9L1540.5 822.6L1540.3 819.3L1540.1 816.1L1539.9 812.8L1539.7 809.5L1539.5 806.2L1539.2 802.8L1539 799.4L1538.7 795.9L1538.4 792.3L1538 788.6L1537.7 784.8L1537.4 781L1537 777.3L1536.7 773.6L1536.3 770L1536 766.5L1535.7 763.2L1535.4 760.1L1535.1 757.2L1534.8 754.7L1534.6 752.7L1534.4 751L1534.2 749.6L1534 748.2L1533.8 746.9L1533.6 745.6L1533.4 744L1533.2 742.1L1533 739.9L1532.8 737.1L1532.5 733.8L1532.2 729.7L1531.9 725L1531.6 719.9L1531.2 714.3L1530.9 708.4L1530.5 702.4L1530.1 696.3L1529.8 690.2L1529.5 684.2L1529.2 678.4L1528.9 673L1528.6 668.1L1528.4 663.5L1528.3 659.3L1528.1 655.2L1527.9 651.3L1527.8 647.6L1527.7 643.9L1527.6 640.3L1527.5 636.6L1527.4 633L1527.4 629.2L1527.4 625.3L1527.4 621.2L1527.4 616.9L1527.4 612.5L1527.4 608L1527.5 603.4L1527.5 598.7L1527.6 594.1L1527.7 589.4L1527.8 584.8L1528 580.2L1528.2 575.8L1528.4 571.4L1528.6 567.3L1529 563.1L1529.3 559L1529.7 555L1530.2 550.9L1530.7 547L1531.2 543.1L1531.7 539.3L1532.2 535.6L1532.6 532.1L1533.1 528.8L1533.5 525.6L1533.8 522.7L1534.1 520.1L1534.3 518.1L1534.5 516.4L1534.6 514.9L1534.7 513.6L1534.8 512.3L1535 511L1535.1 509.4L1535.2 507.6L1535.3 505.4L1535.5 502.7L1535.7 499.3L1536 495.3L1536.3 490.8L1536.6 485.9L1537 480.6L1537.4 475L1537.7 469.2L1538.1 463.2L1538.5 457.2L1538.8 451.1L1539.1 445.2L1539.4 439.4L1539.6 433.8L1539.8 428.3L1539.9 422.9L1540 417.4L1540.1 411.9L1540.2 406.5L1540.2 401L1540.3 395.6L1540.3 390.1L1540.3 384.6L1540.3 379.2L1540.3 373.7L1540.2 368.3L1540.2 362.6L1540.1 356.7L1540.1 350.6L1540 344.4L1539.9 338.2L1539.8 332.1L1539.6 326.2L1539.5 320.6L1539.4 315.3L1539.2 310.5L1539.1 306.3L1539 302.7L1538.8 299.9L1538.7 297.7L1538.6 296.1L1538.4 295L1538.3 294.3L1538.2 293.8L1538 293.5L1537.9 293.3L1537.7 293L1537.5 292.6L1537.3 292L1537 291L1536.7 289.8L1536.4 288.6L1536.1 287.3L1535.8 285.9L1535.5 284.5L1535.1 283.1L1534.7 281.7L1534.3 280.2L1533.9 278.8L1533.4 277.3L1533 275.9L1532.5 274.5L1532 273.2L1531.5 271.7L1531 270.3L1530.5 268.9L1529.9 267.5L1529.4 266.1L1528.8 264.7L1528.2 263.3L1527.5 261.9L1526.9 260.6L1526.2 259.3L1525.4 258L1524.7 256.8L1523.9 255.6L1523.1 254.5L1522.3 253.3L1521.5 252.2L1520.6 251.2L1519.7 250.1L1518.8 249.1L1517.8 248L1516.8 247L1515.7 246L1514.5 245L1513.2 244L1511.9 243L1510.5 242L1509 241L1507.5 240L1505.9 239.1L1504.3 238.1L1502.7 237.3L1501.1 236.4L1499.5 235.7L1498 235L1496.5 234.4L1495 233.9L1493.7 233.4L1492.4 233L1491.1 232.7L1489.9 232.4L1488.6 232.2L1487.3 232L1485.8 231.9L1484.3 231.8L1482.5 231.8L1480.6 231.9L1478.4 232.1L1476 232.3L1473.4 232.5L1470.6 232.9L1467.6 233.3L1464.5 233.8L1461.3 234.3L1458 234.9L1454.7 235.5L1451.4 236.2L1448.1 237L1444.9 237.8L1441.7 238.7L1438.7 239.6L1435.6 240.7L1432.6 241.8L1429.5 243.1L1426.4 244.3L1423.4 245.7L1420.3 247L1417.2 248.3L1414.2 249.7L1411.1 250.9L1408.1 252.2L1405 253.3L1402.1 254.4L1399.2 255.4L1396.3 256.3L1393.5 257.3L1390.7 258.2L1387.9 259.1L1385 260L1382 260.9L1379 261.9L1375.8 262.9L1372.5 264L1369 265.1L1365.3 266.3L1361.4 267.7L1357.2 269.1L1353 270.6L1348.7 272.2L1344.3 273.7L1339.8 275.2L1335.4 276.7L1331.1 278.1L1326.8 279.4L1322.7 280.6L1318.8 281.6L1314.9 282.5L1311 283.3L1307.1 284L1303.3 284.6L1299.5 285.1L1295.7 285.6L1292.1 286.1L1288.7 286.5L1285.4 286.8L1282.3 287.2L1279.5 287.6L1276.9 288L1274.8 288.4L1273.1 288.8L1271.9 289.1L1270.9 289.4L1270 289.7L1269.3 290L1268.5 290.2L1267.6 290.5L1266.5 290.7L1265.1 291L1263.2 291.2L1260.8 291.5L1257.8 291.8L1254.4 292.1L1250.6 292.4L1246.5 292.7L1242.1 293L1237.7 293.2L1233.1 293.5L1228.5 293.8L1224 294L1219.6 294.2L1215.4 294.4L1211.5 294.6L1207.9 294.7L1204.5 294.8L1201.1 294.8L1197.9 294.9L1194.7 294.9L1191.6 294.9L1188.4 294.9L1185.2 294.9L1182 294.9L1178.6 294.9L1175.1 294.8L1171.4 294.8L1167.6 294.7L1163.6 294.7L1159.5 294.6L1155.4 294.5L1151.2 294.4L1146.9 294.2L1142.6 294.1L1138.2 294L1133.9 293.8L1129.5 293.7L1125.2 293.5L1120.9 293.4L1116.6 293.2L1112.3 293L1108 292.9L1103.7 292.7L1099.4 292.5L1095.1 292.3L1090.7 292.1L1086.4 291.9L1082.1 291.7L1077.7 291.5L1073.4 291.3L1069.1 291L1064.8 290.8L1060.6 290.6L1056.5 290.3L1052.3 290.1L1048.2 289.8L1044 289.6L1039.8 289.3L1035.5 289.1L1031.2 288.8L1026.7 288.6L1022.1 288.4L1017.3 288.2L1012.4 288.1L1007.3 287.9L1002.1 287.7L996.8 287.6L991.3 287.5L985.9 287.3L980.3 287.2L974.8 287.1L969.2 287L963.7 286.9L958.2 286.9L952.8 286.8L947.6 286.8L942.8 286.7L938.2 286.7L933.7 286.7L929.2 286.7L924.6 286.6L919.7 286.7L914.6 286.7L909 286.7L902.8 286.7L895.9 286.8L888.3 286.8L879.8 286.9L870.5 286.9L860.6 287L850.1 287.1L839.1 287.2L827.8 287.4L816.3 287.5L804.7 287.6L793.1 287.7L781.5 287.8L770.3 287.9L759.3 288L748.5 288.1L737.7 288.1L726.9 288.2L716.1 288.3L705.4 288.4L694.6 288.4L683.8 288.5L673 288.5L662.2 288.6L651.4 288.6L640.6 288.7L629.8 288.7L619 288.7L608.1 288.7L597.2 288.7L586.2 288.8L575.3 288.7L564.3 288.7L553.4 288.7L542.6 288.7L531.9 288.7L521.2 288.7L510.7 288.7L500.4 288.7L489.9 288.7L479 288.7L467.7 288.7L456.4 288.7L445.2 288.7L434.3 288.7L423.8 288.7L413.9 288.7L404.8 288.7L396.7 288.7L389.8 288.7L384.3 288.7" stroke="#0000ff" stroke-width="4.0" fill="none" stroke-linejoin="round" stroke-linecap="round"/>
<path d="M409.3 991.6L396.8 998L396.8 985.2ZM423.5 991.6L411 998L411 985.2ZM442.8 991.6L430.3 998L430.3 985.2ZM473.8 991.6L461.3 998L461.3 985.2ZM508 991.6L495.5 998L495.5 985.2ZM544.9 991.6L532.4 998L532.4 985.2ZM582.4 991.5L569.9 997.9L569.9 985.1ZM618.7 991.6L606.2 997.9L606.2 985.1ZM658.8 991.7L646.3 998.1L646.3 985.3ZM696.3 992L683.8 998.3L683.9 985.5ZM736.5 992.3L723.9 998.6L724 985.8ZM772.7 992.7L760.1 998.9L760.3 986.1ZM811.4 993.6L798.7 999.6L799.1 986.9ZM851.4 994.8L838.7 1000.8L839.1 988ZM891.4 995.8L878.8 1002.1L879 989.3ZM930.1 995.7L917.6 1002.2L917.5 989.4ZM970.1 994.9L957.7 1001.7L957.4 988.9ZM1008.8 992.9L996.7 1000.1L995.8 987.4ZM1047.5 988.8L1035.8 996.6L1034.4 983.9ZM1085.1 984.5L1073.5 992.4L1071.9 979.7ZM1123.9 979.4L1112.2 987.2L1110.8 974.5ZM1165.4 976L1153.3 983.1L1152.6 970.3ZM1204.2 976.5L1191.4 982.2L1192.1 969.4ZM1243 982.2L1229.6 986.3L1231.9 973.7ZM1279.1 991.4L1265.3 994.1L1268.8 981.8ZM1316.8 1007.5L1302.8 1008.3L1307.9 996.6ZM1355 1022.2L1341.1 1024.1L1345.3 1012ZM1393.3 1034.6L1379.5 1036.9L1383.4 1024.7ZM1431.6 1047.4L1417.9 1050.3L1421.2 1037.9ZM1470.6 1050.9L1458.1 1057.3L1458.1 1044.5ZM1508.7 1042.2L1500 1053.2L1494.7 1041.5ZM1536 999.3L1538.4 1013.1L1526.1 1009.3ZM1543.4 922.1L1549.3 934.9L1536.5 934.4ZM1542.8 851.5L1550 863.5L1537.2 864.4ZM1537.8 781.2L1545.3 793.1L1532.5 794.2ZM1531.4 711.4L1538.6 723.5L1525.8 724.3ZM1528 640.8L1534.8 653.1L1522 653.5ZM1528.8 570L1534.7 582.8L1521.9 582.2ZM1536.1 500.5L1541.6 513.4L1528.8 512.5ZM1540.1 430.2L1546 442.9L1533.3 442.4ZM1540.6 359.5L1547.1 371.9L1534.3 372ZM1538.2 288.9L1545.9 300.6L1533.2 302ZM1513.1 243L1526.5 247.1L1517.6 256.3ZM1473.7 232.3L1485.8 225.1L1486.6 237.9ZM1435.3 240.7L1445.3 230.9L1449.1 243.1ZM1397.4 256.1L1407 245.9L1411.3 257.9ZM1359 268.5L1368.8 258.4L1372.9 270.5ZM1320.7 281.2L1330.9 271.6L1334.5 283.9ZM1281.8 287.2L1293.5 279.4L1294.9 292.1ZM1243 292.8L1255 285.6L1255.9 298.3ZM1204.1 294.7L1216.4 287.9L1216.8 300.7ZM1165.3 294.6L1177.8 288.4L1177.7 301.2ZM1126.4 293.5L1139.1 287.5L1138.7 300.3ZM1087.6 291.8L1100.3 286L1099.8 298.8ZM1048.7 289.7L1061.6 284.1L1060.8 296.9ZM1009.9 287.9L1022.6 281.9L1022.1 294.7ZM971.2 287L983.8 280.8L983.5 293.6ZM932.5 286.5L945 280.2L944.9 293ZM893.8 286.7L906.2 280.2L906.3 293ZM855.1 287L867.5 280.5L867.6 293.3ZM816.4 287.4L828.8 280.9L828.9 293.7ZM777.7 287.7L790.1 281.2L790.2 294ZM738.9 288L751.4 281.6L751.5 294.4ZM700.1 288.3L712.5 281.8L712.6 294.6ZM661.2 288.5L673.7 282L673.8 294.8ZM622.4 288.6L634.9 282.2L634.9 295ZM583.6 288.7L596.1 282.2L596.1 295ZM544.7 288.6L557.2 282.2L557.2 295ZM505.9 288.6L518.4 282.2L518.4 295ZM467.1 288.6L479.6 282.2L479.6 295ZM428.4 288.6L440.9 282.2L440.9 295ZM389.7 288.6L402.2 282.2L402.2 295Z" fill="#0000ff"/>
<path d="M371 990L397.9 964.3" stroke="#0000ff" stroke-width="3.6" stroke-linecap="round"/><path d="M404 958.5L398.7 973.2L389 963.1Z" fill="#0000ff"/>
<path d="M372.1 991.5L373.8 991.5L375.7 991.5L377.8 991.5L380.2 991.5L382.8 991.5L385.8 991.5L389 991.5L392.6 991.5L396.5 991.5L400.9 991.5L405.6 991.5L410.8 991.5L416.4 991.5L422.4 991.5L428.8 991.5L435.6 991.5L442.8 991.5L450.3 991.5L458.1 991.5L466.2 991.5L474.6 991.5L483.2 991.5L492.1 991.5L501.1 991.5L510.5 991.5L520.4 991.5L530.7 991.5L541.4 991.5L552.3 991.5L563.4 991.4L574.6 991.4L586 991.4L597.3 991.4L608.5 991.4L619.6 991.5L630.5 991.5L641.5 991.5L652.9 991.6L664.4 991.7L676.1 991.7L687.8 991.8L699.3 991.9L710.7 992L721.6 992.1L732.2 992.1L742.2 992.2L751.5 992.3L760 992.4L767.6 992.5L774.5 992.6L780.7 992.7L786.3 992.8L791.4 993L796.3 993.1L800.9 993.2L805.4 993.3L809.9 993.4L814.5 993.6L819.3 993.7L824.5 993.8L829.9 994L835.2 994.1L840.6 994.3L846 994.5L851.4 994.7L856.8 994.9L862.1 995.1L867.5 995.2L872.9 995.4L878.2 995.5L883.6 995.6L889 995.7L894.5 995.7L900 995.8L905.7 995.8L911.5 995.8L917.2 995.7L922.9 995.7L928.5 995.6L933.9 995.5L939.2 995.5L944.2 995.4L949 995.3L953.5 995.2L957.7 995.2L961.6 995.1L965.3 995L968.8 994.9L972.1 994.7L975.3 994.6L978.3 994.5L981.2 994.4L984 994.2L986.8 994.1L989.5 994L992.2 993.8L994.8 993.7L997.2 993.6L999.6 993.4L1001.8 993.3L1003.9 993.1L1005.9 993L1007.9 992.8L1009.9 992.7L1011.9 992.5L1013.8 992.3L1015.9 992.2L1018 992L1020.1 991.8L1022.2 991.6L1024.3 991.4L1026.3 991.1L1028.4 990.9L1030.5 990.7L1032.6 990.4L1034.7 990.2L1036.9 989.9L1039.1 989.7L1041.5 989.4L1043.9 989.2L1046.4 988.9L1049 988.6L1051.6 988.3L1054.3 988L1057 987.7L1059.8 987.4L1062.6 987.1L1065.5 986.8L1068.5 986.5L1071.5 986.1L1074.5 985.8L1077.6 985.4L1080.7 985L1084 984.6L1087.3 984.1L1090.6 983.7L1094.1 983.2L1097.5 982.7L1101 982.2L1104.5 981.7L1108 981.3L1111.5 980.8L1114.9 980.4L1118.4 980L1121.8 979.6L1125.2 979.2L1128.6 978.9L1132 978.5L1135.5 978.2L1138.9 977.8L1142.3 977.5L1145.7 977.2L1149.1 976.9L1152.5 976.7L1155.8 976.4L1159.2 976.3L1162.5 976.1L1165.7 976L1169 975.8L1172.2 975.7L1175.5 975.6L1178.7 975.6L1181.9 975.6L1185.1 975.6L1188.3 975.6L1191.6 975.7L1194.8 975.9L1198 976L1201.2 976.2L1204.5 976.5L1207.7 976.8L1210.9 977.1L1214.1 977.4L1217.3 977.8L1220.5 978.3L1223.7 978.7L1227 979.2L1230.2 979.8L1233.5 980.3L1236.9 980.9L1240.3 981.6L1243.8 982.3L1247.5 983.1L1251.1 983.9L1254.9 984.8L1258.5 985.7L1262.2 986.6L1265.7 987.5L1269.1 988.4L1272.4 989.3L1275.5 990.2L1278.3 991L1280.8 991.8L1283 992.6L1285 993.3L1286.7 994L1288.4 994.7L1290 995.4L1291.5 996.1L1293.2 996.9L1294.9 997.7L1296.8 998.6L1299 999.6L1301.5 1000.6L1304.1 1001.7L1306.9 1002.9L1309.8 1004.2L1312.8 1005.5L1315.9 1006.9L1319.2 1008.3L1322.5 1009.7L1326 1011.2L1329.6 1012.7L1333.4 1014.2L1337.3 1015.7L1341.4 1017.2L1345.7 1018.7L1350.5 1020.4L1355.5 1022.1L1360.8 1023.9L1366.2 1025.7L1371.7 1027.4L1377.1 1029.2L1382.4 1030.9L1387.5 1032.5L1392.3 1034.1L1396.7 1035.5L1400.6 1036.8L1404 1038L1407 1039L1409.7 1040L1412.1 1040.9L1414.3 1041.8L1416.4 1042.5L1418.3 1043.3L1420.2 1043.9L1422.2 1044.6L1424.3 1045.2L1426.5 1045.8L1428.9 1046.4L1431.5 1046.9L1434.2 1047.5L1436.9 1048L1439.7 1048.5L1442.4 1049L1445.3 1049.4L1448.1 1049.8L1451 1050.1L1453.8 1050.4L1456.7 1050.6L1459.5 1050.7L1462.4 1050.8L1465.3 1050.8L1468.3 1050.8L1471.3 1050.7L1474.4 1050.5L1477.5 1050.3L1480.6 1050.1L1483.6 1049.7L1486.6 1049.3L1489.4 1048.9L1492.2 1048.4L1494.8 1047.8L1497.2 1047.1L1499.4 1046.3L1501.5 1045.5L1503.4 1044.6L1505.3 1043.6L1507 1042.6L1508.7 1041.5L1510.3 1040.4L1511.8 1039.1L1513.4 1037.8L1514.8 1036.5L1516.3 1035L1517.8 1033.5L1519.2 1031.9L1520.7 1030.2L1522.1 1028.4L1523.5 1026.6L1524.8 1024.6L1526.1 1022.6L1527.3 1020.6L1528.5 1018.5L1529.6 1016.4L1530.7 1014.3L1531.7 1012.2L1532.6 1010.2L1533.4 1008.2L1534.1 1006.2L1534.7 1004.2L1535.2 1002.2L1535.7 1000.2L1536.1 998.2L1536.5 996.1L1536.9 994L1537.3 991.8L1537.6 989.5L1538 987.2L1538.4 984.7L1538.8 982.1L1539.1 979.5L1539.5 976.8L1539.9 974.1L1540.2 971.2L1540.5 968.3L1540.9 965.4L1541.2 962.4L1541.4 959.3L1541.7 956.3L1542 953.1L1542.2 950L1542.5 946.7L1542.7 943.3L1542.9 939.8L1543.1 936.2L1543.2 932.6L1543.4 928.9L1543.5 925.3L1543.7 921.7L1543.8 918.2L1543.9 914.9L1544 911.7L1544.2 908.7L1544.3 906L1544.4 903.5L1544.5 901.2L1544.6 899.1L1544.7 897.1L1544.8 895.1L1544.8 893.1L1544.9 891L1544.9 888.9L1544.9 886.6L1544.9 884L1544.8 881.3L1544.7 878.3L1544.6 875.1L1544.4 871.7L1544.2 868.2L1544 864.6L1543.7 861L1543.5 857.2L1543.2 853.5L1542.9 849.8L1542.7 846.1L1542.4 842.6L1542.2 839.1L1542 835.7L1541.8 832.3L1541.6 829L1541.4 825.7L1541.2 822.4L1541 819.1L1540.8 815.9L1540.6 812.6L1540.4 809.3L1540.2 806L1539.9 802.6L1539.7 799.2L1539.4 795.7L1539.1 792.1L1538.7 788.4L1538.4 784.6L1538.1 780.8L1537.7 777.1L1537.4 773.4L1537 769.8L1536.7 766.3L1536.4 763L1536.1 759.9L1535.8 757L1535.5 754.5L1535.3 752.5L1535.1 750.8L1534.9 749.4L1534.7 748L1534.5 746.7L1534.3 745.4L1534.1 743.8L1533.9 741.9L1533.7 739.7L1533.5 736.9L1533.2 733.5L1532.9 729.5L1532.6 724.8L1532.3 719.7L1531.9 714.1L1531.6 708.2L1531.2 702.2L1530.8 696.1L1530.5 690L1530.2 684L1529.9 678.2L1529.6 672.8L1529.3 667.9L1529.1 663.3L1529 659.1L1528.8 655L1528.6 651.1L1528.5 647.4L1528.4 643.7L1528.3 640.1L1528.2 636.4L1528.1 632.8L1528.1 629L1528.1 625.1L1528.1 621L1528.1 616.7L1528.1 612.3L1528.1 607.8L1528.2 603.2L1528.2 598.5L1528.3 593.9L1528.4 589.2L1528.5 584.6L1528.7 580L1528.9 575.6L1529.1 571.2L1529.3 567.1L1529.7 562.9L1530 558.8L1530.4 554.8L1530.9 550.7L1531.4 546.8L1531.9 542.9L1532.4 539.1L1532.9 535.4L1533.3 531.9L1533.8 528.6L1534.2 525.4L1534.5 522.5L1534.8 519.9L1535 517.9L1535.2 516.2L1535.3 514.7L1535.4 513.4L1535.5 512.1L1535.7 510.8L1535.8 509.2L1535.9 507.4L1536 505.2L1536.2 502.5L1536.4 499.1L1536.7 495.1L1537 490.6L1537.3 485.7L1537.7 480.4L1538.1 474.8L1538.4 469L1538.8 463L1539.2 457L1539.5 450.9L1539.8 445L1540.1 439.2L1540.3 433.6L1540.5 428.1L1540.6 422.7L1540.7 417.2L1540.8 411.7L1540.9 406.3L1540.9 400.8L1541 395.4L1541 389.9L1541 384.4L1541 379L1541 373.5L1540.9 368.1L1540.9 362.4L1540.8 356.5L1540.8 350.4L1540.7 344.2L1540.6 338L1540.5 331.9L1540.3 326L1540.2 320.4L1540.1 315.1L1539.9 310.3L1539.8 306.1L1539.7 302.5L1539.5 299.7L1539.4 297.5L1539.3 295.9L1539.1 294.8L1539 294.1L1538.9 293.6L1538.7 293.3L1538.6 293.1L1538.4 292.8L1538.2 292.4L1538 291.8L1537.7 290.8L1537.4 289.6L1537.1 288.4L1536.8 287.1L1536.5 285.7L1536.2 284.3L1535.8 282.9L1535.4 281.5L1535 280L1534.6 278.6L1534.1 277.1L1533.7 275.7L1533.2 274.3L1532.7 273L1532.2 271.5L1531.7 270.1L1531.2 268.7L1530.6 267.3L1530.1 265.9L1529.5 264.5L1528.9 263.1L1528.2 261.7L1527.6 260.4L1526.9 259.1L1526.1 257.8L1525.4 256.6L1524.6 255.4L1523.8 254.3L1523 253.1L1522.2 252L1521.3 251L1520.4 249.9L1519.5 248.9L1518.5 247.8L1517.5 246.8L1516.4 245.8L1515.2 244.8L1513.9 243.8L1512.6 242.8L1511.2 241.8L1509.7 240.8L1508.2 239.8L1506.6 238.9L1505 237.9L1503.4 237.1L1501.8 236.2L1500.2 235.5L1498.7 234.8L1497.2 234.2L1495.7 233.7L1494.4 233.2L1493.1 232.8L1491.8 232.5L1490.6 232.2L1489.3 232L1488 231.8L1486.5 231.7L1485 231.6L1483.2 231.6L1481.3 231.7L1479.1 231.9L1476.7 232.1L1474.1 232.3L1471.3 232.7L1468.3 233.1L1465.2 233.6L1462 234.1L1458.7 234.7L1455.4 235.3L1452.1 236L1448.8 236.8L1445.6 237.6L1442.4 238.5L1439.4 239.4L1436.3 240.5L1433.3 241.6L1430.2 242.9L1427.1 244.1L1424.1 245.5L1421 246.8L1417.9 248.1L1414.9 249.5L1411.8 250.7L1408.8 252L1405.8 253.1L1402.8 254.2L1399.9 255.2L1397 256.1L1394.2 257.1L1391.4 258L1388.6 258.9L1385.7 259.8L1382.7 260.7L1379.7 261.7L1376.5 262.7L1373.2 263.8L1369.7 264.9L1366 266.1L1362.1 267.5L1357.9 268.9L1353.7 270.4L1349.4 272L1345 273.5L1340.5 275L1336.1 276.5L1331.8 277.9L1327.5 279.2L1323.4 280.4L1319.5 281.4L1315.6 282.3L1311.7 283.1L1307.8 283.8L1304 284.4L1300.2 284.9L1296.4 285.4L1292.8 285.9L1289.4 286.3L1286.1 286.6L1283 287L1280.2 287.4L1277.6 287.8L1275.5 288.2L1273.8 288.6L1272.6 288.9L1271.6 289.2L1270.7 289.5L1270 289.8L1269.2 290L1268.3 290.3L1267.2 290.5L1265.8 290.8L1263.9 291L1261.5 291.3L1258.5 291.6L1255.1 291.9L1251.3 292.2L1247.2 292.5L1242.8 292.8L1238.4 293L1233.8 293.3L1229.2 293.6L1224.7 293.8L1220.3 294L1216.1 294.2L1212.2 294.4L1208.6 294.5L1205.2 294.6L1201.8 294.6L1198.6 294.7L1195.4 294.7L1192.3 294.7L1189.1 294.7L1185.9 294.7L1182.7 294.7L1179.3 294.7L1175.8 294.6L1172.1 294.6L1168.3 294.5L1164.3 294.5L1160.2 294.4L1156.1 294.3L1151.9 294.2L1147.6 294L1143.3 293.9L1138.9 293.8L1134.6 293.6L1130.2 293.5L1125.9 293.3L1121.6 293.2L1117.3 293L1113 292.8L1108.7 292.7L1104.4 292.5L1100.1 292.3L1095.8 292.1L1091.4 291.9L1087.1 291.7L1082.8 291.5L1078.4 291.3L1074.1 291.1L1069.8 290.8L1065.5 290.6L1061.3 290.4L1057.2 290.1L1053 289.9L1048.9 289.6L1044.7 289.4L1040.5 289.1L1036.2 288.9L1031.9 288.6L1027.4 288.4L1022.8 288.2L1018 288L1013.1 287.9L1008 287.7L1002.8 287.5L997.5 287.4L992 287.3L986.6 287.1L981 287L975.5 286.9L969.9 286.8L964.4 286.7L958.9 286.7L953.5 286.6L948.3 286.6L943.5 286.5L938.9 286.5L934.4 286.5L929.9 286.5L925.3 286.4L920.4 286.5L915.3 286.5L909.7 286.5L903.5 286.5L896.6 286.6L889 286.6L880.5 286.7L871.2 286.7L861.3 286.8L850.8 286.9L839.8 287L828.5 287.2L817 287.3L805.4 287.4L793.8 287.5L782.2 287.6L771 287.7L760 287.8L749.2 287.9L738.4 287.9L727.6 288L716.8 288.1L706.1 288.2L695.3 288.2L684.5 288.3L673.7 288.3L662.9 288.4L652.1 288.4L641.3 288.5L630.5 288.5L619.7 288.5L608.8 288.5L597.9 288.5L586.9 288.6L576 288.5L565 288.5L554.1 288.5L543.3 288.5L532.6 288.5L521.9 288.5L511.4 288.5L501.1 288.5L490.6 288.5L479.7 288.5L468.4 288.5L457.1 288.5L445.9 288.5L435 288.5L424.5 288.5L414.6 288.5L405.5 288.5L397.4 288.5L390.5 288.5L385 288.5" stroke="#ff0000" stroke-width="4.6" fill="none" stroke-linejoin="round" stroke-linecap="round"/>
<path d="M410 991.5L396 998.7L396 984.3ZM424.2 991.5L410.2 998.7L410.2 984.3ZM443.6 991.5L429.6 998.7L429.6 984.3ZM474.5 991.5L460.5 998.7L460.5 984.3ZM508.7 991.5L494.7 998.7L494.7 984.3ZM545.6 991.5L531.6 998.7L531.6 984.3ZM583.2 991.4L569.2 998.6L569.2 984.2ZM619.4 991.5L605.4 998.6L605.4 984.2ZM659.6 991.6L645.5 998.8L645.6 984.4ZM697.1 991.9L683 999L683.1 984.6ZM737.2 992.2L723.2 999.3L723.3 984.9ZM773.4 992.6L759.4 999.6L759.5 985.2ZM812.1 993.5L798 1000.3L798.3 985.9ZM852.1 994.7L837.9 1001.4L838.4 987ZM892.1 995.7L878 1002.7L878.2 988.4ZM930.8 995.6L916.9 1002.9L916.8 988.5ZM970.8 994.8L957 1002.4L956.6 988ZM1009.5 992.8L996 1000.9L995 986.5ZM1048.3 988.7L1035.2 997.4L1033.5 983.1ZM1085.8 984.4L1072.8 993.3L1071 979ZM1124.7 979.3L1111.6 988L1109.9 973.7ZM1166.1 975.9L1152.6 983.8L1151.8 969.5ZM1205 976.4L1190.6 982.8L1191.4 968.5ZM1243.7 982.2L1228.7 986.8L1231.3 972.6ZM1279.8 991.4L1264.4 994.5L1268.4 980.7ZM1317.5 1007.6L1301.8 1008.5L1307.6 995.4ZM1355.7 1022.2L1340.1 1024.4L1344.8 1010.8ZM1394 1034.6L1378.5 1037.2L1382.9 1023.5ZM1432.4 1047.4L1417 1050.7L1420.7 1036.8ZM1471.4 1050.8L1457.4 1058L1457.4 1043.6ZM1509.4 1041.9L1499.7 1054.2L1493.7 1041.1ZM1536.4 998.7L1539.1 1014.2L1525.4 1010ZM1543.7 921.6L1550.3 935.9L1535.9 935.3ZM1543 851L1551.2 864.4L1536.8 865.4ZM1538.1 780.7L1546.5 794L1532.1 795.2ZM1531.7 710.8L1539.8 724.4L1525.4 725.3ZM1528.3 640.3L1535.9 654L1521.5 654.5ZM1529.1 569.5L1535.7 583.8L1521.4 583.2ZM1536.4 499.9L1542.6 514.4L1528.3 513.4ZM1540.4 429.6L1547.1 443.9L1532.7 443.3ZM1540.9 358.9L1548.2 372.9L1533.8 373ZM1538.4 288.4L1547.1 301.5L1532.8 303.1ZM1513.1 242.6L1528.1 247.1L1518.1 257.5ZM1473.6 232.2L1487.1 224.1L1488 238.5ZM1435.2 240.7L1446.4 229.7L1450.7 243.5ZM1397.3 256.1L1408 244.6L1412.9 258.2ZM1358.9 268.6L1369.8 257.2L1374.5 270.8ZM1320.6 281.2L1332 270.4L1336 284.3ZM1281.6 287.2L1294.7 278.4L1296.4 292.7ZM1242.8 292.8L1256.3 284.6L1257.3 299ZM1204 294.6L1217.7 287L1218.2 301.4ZM1165.1 294.5L1179.2 287.5L1179 301.9ZM1126.3 293.4L1140.5 286.6L1140 301ZM1087.4 291.7L1101.7 285.2L1101.1 299.6ZM1048.6 289.6L1063 283.3L1062.1 297.7ZM1009.7 287.7L1024 281L1023.5 295.4ZM971 286.8L985.1 279.9L984.9 294.3ZM932.3 286.4L946.4 279.3L946.3 293.7ZM893.6 286.6L907.6 279.3L907.7 293.7ZM854.9 286.9L868.8 279.6L869 294ZM816.2 287.3L830.1 279.9L830.3 294.3ZM777.5 287.7L791.4 280.3L791.6 294.7ZM738.8 287.9L752.7 280.6L752.8 295ZM699.9 288.2L713.9 280.9L714 295.3ZM661.1 288.4L675.1 281.1L675.1 295.5ZM622.3 288.5L636.2 281.3L636.3 295.7ZM583.4 288.6L597.4 281.3L597.4 295.7ZM544.6 288.5L558.6 281.3L558.6 295.7ZM505.8 288.5L519.8 281.3L519.7 295.7ZM467 288.5L481 281.3L481 295.7ZM428.3 288.5L442.3 281.3L442.3 295.7ZM389.6 288.5L403.6 281.3L403.6 295.7Z" fill="#ff0000" stroke="#ff0000" stroke-width="1.4" stroke-linejoin="round"/>
<path d="M1503 1040L1536.7 1010.5" stroke="#ff0000" stroke-width="3.6" stroke-linecap="round"/><path d="M1543 1005L1537.4 1019.9L1527.5 1008.6Z" fill="#ff0000"/>
<path d="M1536 288L1528 250L1521 224" stroke="#ff0000" stroke-width="3.6" fill="none" stroke-linejoin="round" stroke-linecap="round"/>
<path d="M1519 242L1481.8 220.1" stroke="#ff0000" stroke-width="3.6" stroke-linecap="round"/><path d="M1474 215.5L1491 216.2L1482.9 230Z" fill="#ff0000"/>
<path d="M243.1 52.5V1225" stroke="#787878" stroke-width="3.6" fill="none"/>
<path d="M241.3 1224.9H1792" stroke="#5a5a5a" stroke-width="3.8" fill="none"/>
<path d="M501.1 1225V1209M760 1225V1209M1018 1225V1209M1277 1225V1209M1534.5 1225V1209M1792 1225V1209M243 991.5H260M243 757H260M243 522.5H260M243 288.5H260M243 52.5H260" stroke="#707070" stroke-width="3.6" fill="none"/>
<g font-family="Liberation Serif, serif" font-size="81" fill="#1e1e1e"><text x="242" y="1322" text-anchor="middle" letter-spacing="-1.5">0</text><text x="500.1" y="1322" text-anchor="middle" letter-spacing="-1.5">20</text><text x="759" y="1322" text-anchor="middle" letter-spacing="-1.5">40</text><text x="1017" y="1322" text-anchor="middle" letter-spacing="-1.5">60</text><text x="1276" y="1322" text-anchor="middle" letter-spacing="-1.5">80</text><text x="1533.5" y="1322" text-anchor="middle" letter-spacing="-4">100</text><text x="1791" y="1322" text-anchor="middle" letter-spacing="-4">120</text><text x="218" y="1254" text-anchor="end" letter-spacing="-1.5">0</text><text x="214.5" y="1019.6" text-anchor="end" letter-spacing="-4">10</text><text x="218" y="784.5" text-anchor="end" letter-spacing="-1.5">20</text><text x="218" y="549.9" text-anchor="end" letter-spacing="-1.5">30</text><text x="218" y="316.2" text-anchor="end" letter-spacing="-1.5">40</text><text x="218" y="82" text-anchor="end" letter-spacing="-1.5">50</text></g>
<g font-family="Liberation Serif, serif" font-size="100" fill="#1e1e1e"><text transform="translate(913.4 1410.8) scale(0.949 0.865)" font-style="italic">X</text><text transform="translate(1001.9 1413.0) scale(0.696 0.922)">(</text><text transform="translate(1031.5 1411.3) scale(0.983 0.779)" font-style="italic">m</text><text transform="translate(1101.5 1413.0) scale(0.638 0.922)">)</text><g transform="translate(96.5 736) rotate(-90)"><text transform="translate(-4.55 0) scale(0.959 0.843)" font-style="italic">Y</text><text transform="translate(81.9 2.1) scale(0.735 0.913)">(</text><text transform="translate(112.2 1.5) scale(0.952 0.779)" font-style="italic">m</text><text transform="translate(180 2.1) scale(0.704 0.913)">)</text></g></g>
<g font-family="Liberation Serif, serif" font-size="50" fill="#111111"><rect x="877.5" y="367" width="382" height="306" fill="#ffffff" stroke="#505050" stroke-width="3"/><rect x="952.2" y="391.8" width="22.2" height="22.2" fill="none" stroke="#ff00ff" stroke-width="3.6"/><path d="M892.5 460.3H1034.9" stroke="#000000" stroke-width="4"/><path d="M892.5 519.5H1034.9" stroke="#00ff00" stroke-width="4"/><path d="M892.5 578.9H1034.9" stroke="#0000ff" stroke-width="4"/><path d="M892.5 637.6H1034.9" stroke="#ff0000" stroke-width="4" stroke-dasharray="19.3 18.7"/><text x="1047" y="414.2" textLength="196" lengthAdjust="spacingAndGlyphs">Waypoint</text><text x="1047" y="473.6" textLength="100.5" lengthAdjust="spacingAndGlyphs">SMC</text><text x="1047" y="532.6" textLength="92" lengthAdjust="spacingAndGlyphs">FLC</text><text x="1047" y="591.8" textLength="129" lengthAdjust="spacingAndGlyphs">RAFC</text><text x="1047" y="651" textLength="67.5" lengthAdjust="spacingAndGlyphs">DT</text></g>
</svg></body></html>
